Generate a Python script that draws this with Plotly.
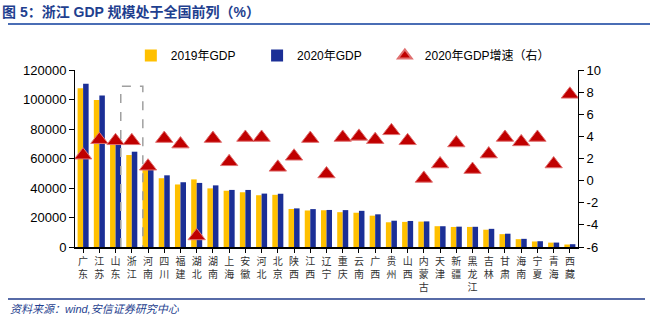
import plotly.graph_objects as go

provinces = ["广东","江苏","山东","浙江","河南","四川","福建","湖北","湖南","上海","安徽","河北","北京","陕西","江西","辽宁",
             "重庆","云南","广西","贵州","山西","内蒙古","天津","新疆","黑龙江","吉林","甘肃","海南","宁夏","青海","西藏"]
gdp2019 = [107671,99632,71067,62352,54259,46616,42395,45828,39752,38155,37114,35104,35371,25793,24758,24909,
           23606,23224,21237,16769,17027,17213,14104,13597,13613,11727,8718,5309,3748,2966,1698]
gdp2020 = [110761,102719,73129,64613,54997,48599,43904,43443,41781,38701,38681,36207,36103,26182,25692,25115,
           25003,24522,22157,17827,17652,17360,14084,13798,13699,12311,9017,5532,3921,3006,1903]
growth2020 = [2.3,3.7,3.6,3.6,1.3,3.8,3.3,-5.0,3.8,1.7,3.9,3.9,1.2,2.2,3.8,0.6,
              3.9,4.0,3.7,4.5,3.6,0.2,1.5,3.4,1.0,2.4,3.9,3.5,3.9,1.5,7.8]
left_ticks = [0,20000,40000,60000,80000,100000,120000]
right_ticks = [-6,-4,-2,0,2,4,6,8,10]

YELLOW = "#FFC000"
BLUE = "#1B2F96"
RED = "#C00000"
TITLE_BLUE = "#1F3F8F"
FONT = "Liberation Sans, Arial, Noto Sans CJK SC"
CJK = "Noto Sans CJK SC"

xs = list(range(len(provinces)))
ticktext = ["<br>".join(list(p)) for p in provinces]

fig = go.Figure()
fig.add_trace(go.Bar(x=xs, y=gdp2019, name="2019年GDP", legend="legend",
                     marker=dict(color=YELLOW, line=dict(width=0))))
fig.add_trace(go.Bar(x=xs, y=gdp2020, name="2020年GDP", legend="legend2",
                     marker=dict(color=BLUE, line=dict(width=0))))
fig.add_trace(go.Scatter(x=xs, y=growth2020, name="2020年GDP增速（右）", mode="markers", yaxis="y2",
                         legend="legend3",
                         marker=dict(symbol="triangle-up", size=15, color=RED,
                                     line=dict(color="#E07070", width=1))))

def leg(x):
    return dict(orientation="h", x=x, y=1.0, xanchor="left", yanchor="bottom",
                font=dict(family=FONT, size=12), itemwidth=30, itemsizing="constant",
                bgcolor="rgba(0,0,0,0)")

fig.update_layout(
    width=650, height=325,
    margin=dict(l=75, r=72, t=70, b=78),
    paper_bgcolor="white", plot_bgcolor="white",
    barmode="group", bargap=0.32, bargroupgap=0,
    font=dict(family=FONT, size=13, color="#000000"),
    showlegend=True,
    legend=leg(0.111), legend2=leg(0.362), legend3=leg(0.616),
    xaxis=dict(range=[-0.5, len(provinces)-0.5], tickmode="array", tickvals=xs, ticktext=ticktext,
               tickangle=0, tickfont=dict(family=CJK, size=10, color="#333333"),
               showline=True, linecolor="black", linewidth=1.5, ticks="outside", tickson="boundaries",
               ticklen=4, tickcolor="black", showgrid=False, zeroline=False, fixedrange=True),
    yaxis=dict(range=[0,120000], tickmode="array", tickvals=left_ticks, ticktext=[str(v) for v in left_ticks],
               showline=True, linecolor="black", linewidth=1, ticks="outside", ticklen=5, tickcolor="black",
               showgrid=False, zeroline=False, tickfont=dict(size=13)),
    yaxis2=dict(range=[-6,10], overlaying="y", side="right", tickmode="array", tickvals=right_ticks,
                ticktext=[str(v) for v in right_ticks],
                showline=True, linecolor="black", linewidth=1, ticks="outside", ticklen=5, tickcolor="black",
                showgrid=False, zeroline=False, tickfont=dict(size=13)),
)

# Dashed box highlighting Zhejiang
fig.add_shape(type="rect", xref="x", yref="y", x0=3-0.68, x1=3+0.68, y0=-2200, y1=109000,
              line=dict(color="#A0A0A0", width=1.5, dash="dash"), fillcolor="rgba(0,0,0,0)", layer="above")

# Title and source
fig.add_annotation(text="<b>图 5：浙江 GDP 规模处于全国前列（%）</b>", xref="paper", yref="paper",
                   x=-75/503, y=1+(70-12)/177, xanchor="left", yanchor="middle", showarrow=False,
                   font=dict(family="Liberation Sans, Noto Sans CJK SC", size=14, color=TITLE_BLUE))
fig.add_shape(type="line", xref="paper", yref="paper", x0=-67/503, x1=(650-75)/503,
              y0=1+(70-24)/177, y1=1+(70-24)/177, line=dict(color="#4A6DB5", width=2))
fig.add_shape(type="line", xref="paper", yref="paper", x0=-67/503, x1=(645-75)/503,
              y0=-(299-247)/177, y1=-(299-247)/177, line=dict(color="#1F3A8A", width=1.5))
fig.add_annotation(text="<i>资料来源：wind,安信证券研究中心</i>", xref="paper", yref="paper",
                   x=-67/503, y=-(309-247)/177, xanchor="left", yanchor="middle", showarrow=False,
                   font=dict(family="Liberation Sans, Noto Sans CJK SC", size=11, color=TITLE_BLUE))

fig.write_html("out.html")
